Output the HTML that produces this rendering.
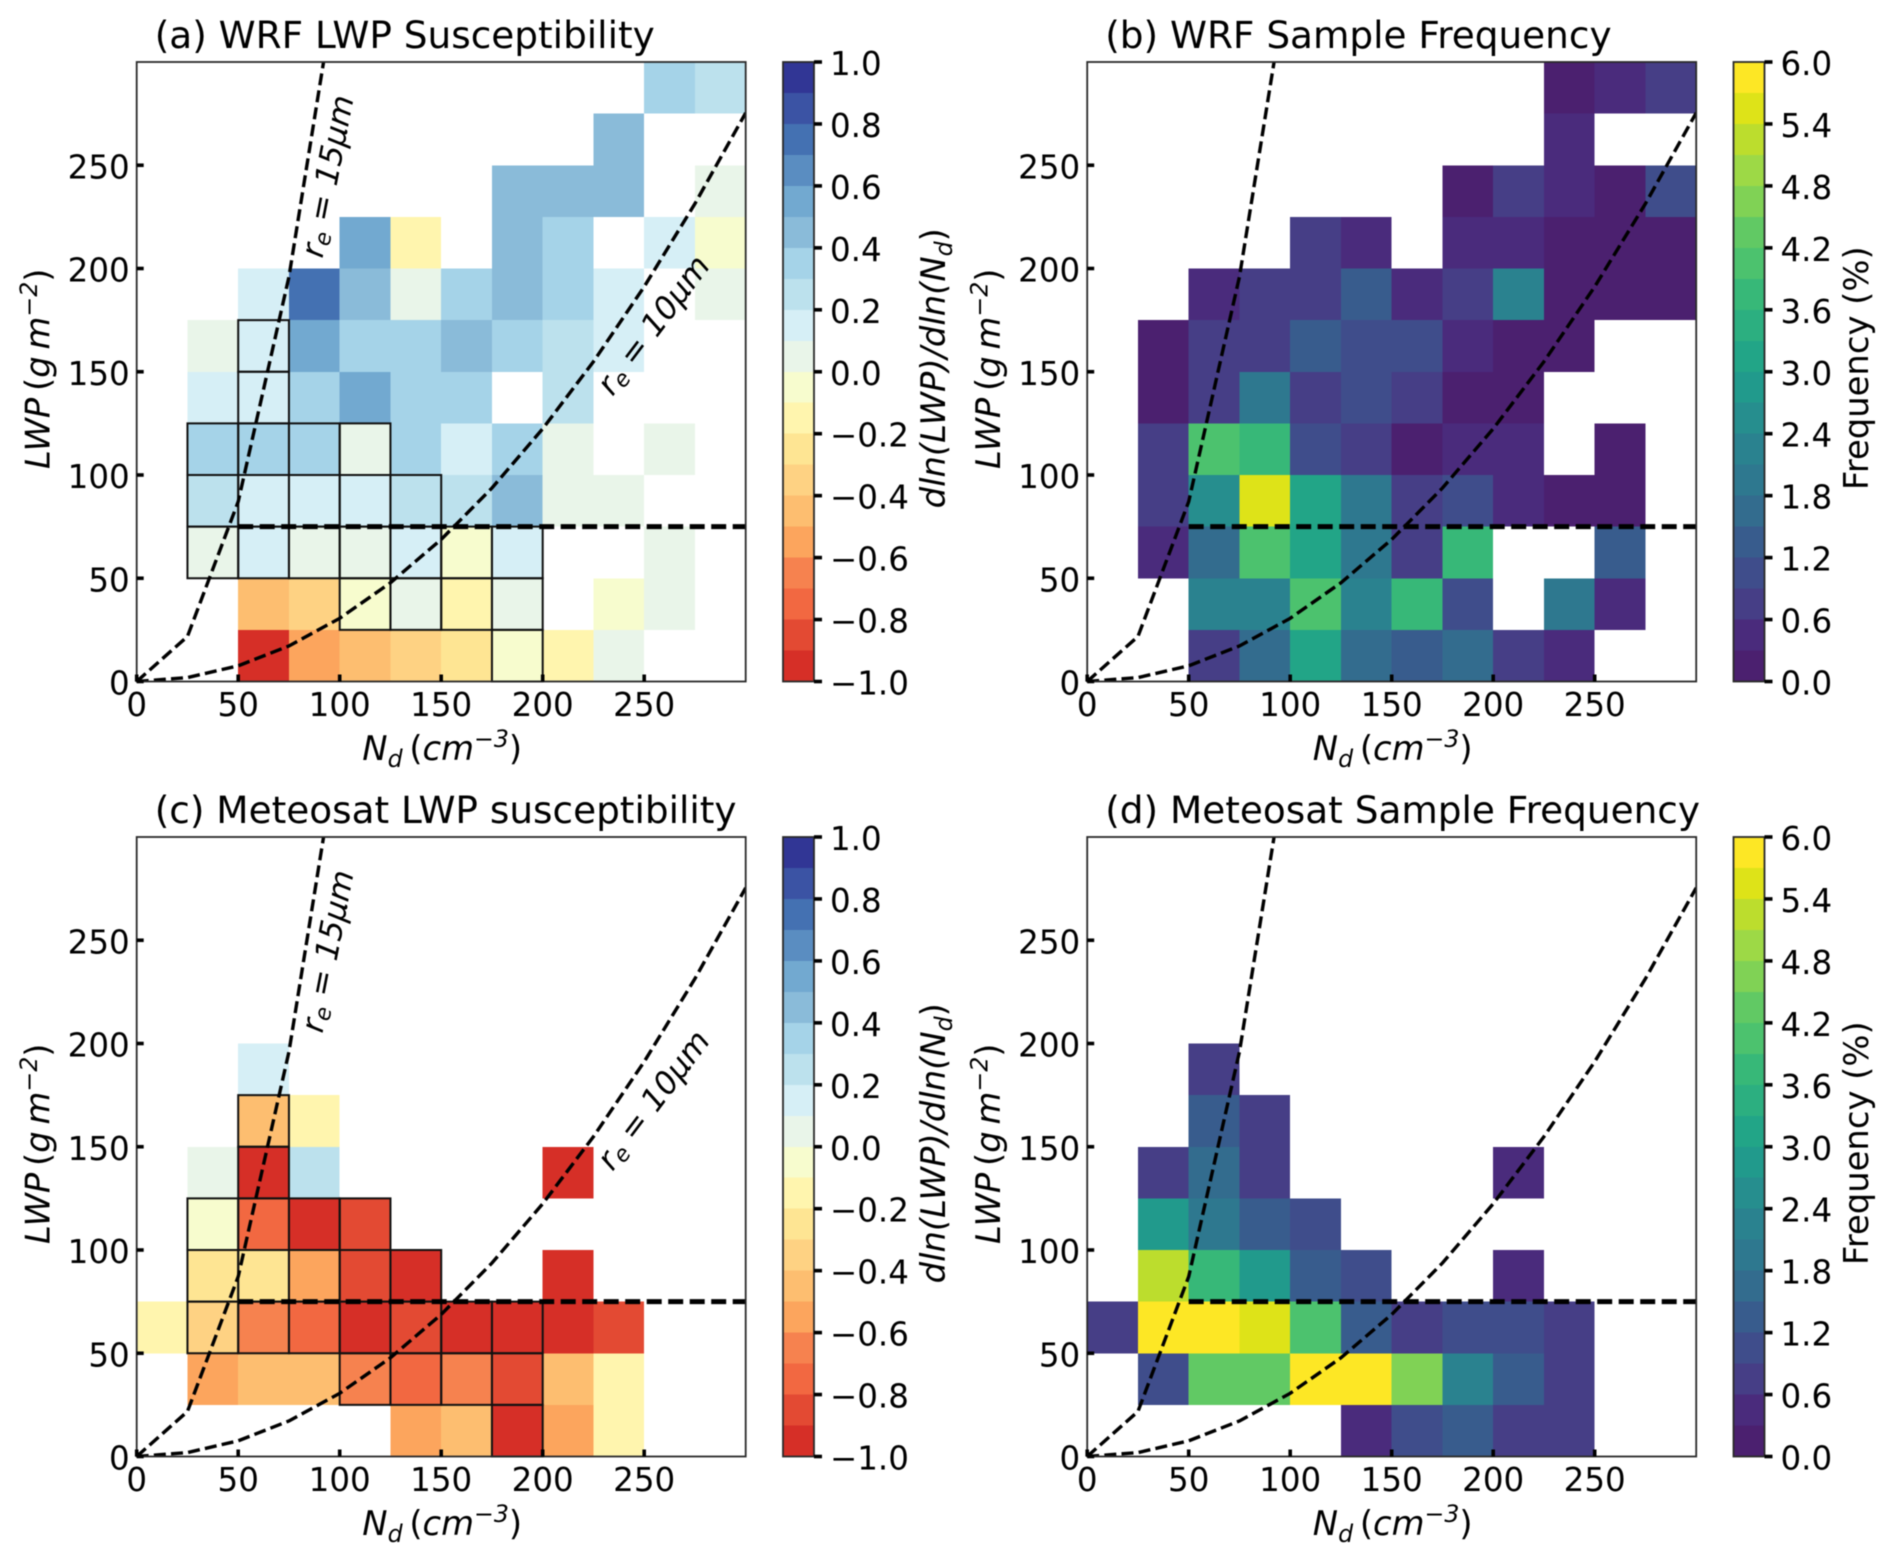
<!DOCTYPE html>
<html lang="en">
<head>
<meta charset="utf-8">
<title>LWP susceptibility and sample frequency</title>
<style>
  html, body { margin: 0; padding: 0; background: #fff; }
  body { width: 1892px; height: 1560px; overflow: hidden; }
  svg { display: block; filter: blur(0.45px); }
  text { font-family: "DejaVu Sans", "Liberation Sans", sans-serif; fill: #000; }
</style>
</head>
<body>
<svg id="figure" xmlns="http://www.w3.org/2000/svg" width="1892" height="1560" viewBox="0 0 1892 1560"></svg>
<script>
// ---- Data: index 0 is the lowest LWP row (0-25), each row runs over Nd 0-300 in bins of 25 ----
const _ = null;
const ndBinEdges = [0, 25, 50, 75, 100, 125, 150, 175, 200, 225, 250, 275, 300];
const lwpBinEdges = [0, 25, 50, 75, 100, 125, 150, 175, 200, 225, 250, 275, 300];
const xTickValues = [0, 50, 100, 150, 200, 250];
const yTickValues = [0, 50, 100, 150, 200, 250];
const susceptibilityTicks = [-1.0, -0.8, -0.6, -0.4, -0.2, 0.0, 0.2, 0.4, 0.6, 0.8, 1.0];
const frequencyTicks = [0.0, 0.6, 1.2, 1.8, 2.4, 3.0, 3.6, 4.2, 4.8, 5.4, 6.0];

const wrfSusceptibility = [
  [_, _, -0.95, -0.55, -0.45, -0.35, -0.25, -0.05, -0.15, 0.05, _, _],
  [_, _, -0.45, -0.35, -0.05, 0.05, -0.15, 0.05, _, -0.05, 0.05, _],
  [_, 0.05, 0.15, 0.05, 0.05, 0.15, -0.05, 0.15, _, _, 0.05, _],
  [_, 0.25, 0.15, 0.15, 0.15, 0.25, 0.25, 0.45, 0.05, 0.05, _, _],
  [_, 0.35, 0.35, 0.35, 0.05, 0.35, 0.15, 0.35, 0.05, _, 0.05, _],
  [_, 0.15, 0.15, 0.35, 0.55, 0.35, 0.35, _, 0.25, _, _, _],
  [_, 0.05, 0.15, 0.55, 0.35, 0.35, 0.45, 0.35, 0.25, 0.15, _, _],
  [_, _, 0.15, 0.75, 0.45, 0.05, 0.35, 0.45, 0.35, 0.15, _, 0.05],
  [_, _, _, _, 0.55, -0.15, _, 0.45, 0.35, _, 0.15, -0.05],
  [_, _, _, _, _, _, _, 0.45, 0.45, 0.45, _, 0.05],
  [_, _, _, _, _, _, _, _, _, 0.45, _, _],
  [_, _, _, _, _, _, _, _, _, _, 0.35, 0.25]
];
const wrfFrequency = [
  [_, _, 0.75, 1.65, 3.15, 1.65, 1.35, 1.65, 0.75, 0.45, _, _],
  [_, _, 2.25, 2.25, 4.05, 2.25, 3.75, 1.05, _, 1.95, 0.45, _],
  [_, 0.45, 1.65, 4.05, 3.15, 1.95, 0.75, 3.75, _, _, 1.35, _],
  [_, 0.75, 2.55, 5.55, 3.15, 1.95, 0.75, 1.05, 0.45, 0.15, 0.15, _],
  [_, 0.75, 4.05, 3.75, 1.05, 0.75, 0.15, 0.45, 0.45, _, 0.15, _],
  [_, 0.15, 0.75, 1.95, 0.75, 1.05, 0.75, 0.15, 0.15, _, _, _],
  [_, 0.15, 0.75, 0.75, 1.35, 1.05, 1.05, 0.45, 0.15, 0.15, _, _],
  [_, _, 0.45, 0.75, 0.75, 1.35, 0.45, 0.75, 2.25, 0.15, 0.15, 0.15],
  [_, _, _, _, 0.75, 0.45, _, 0.45, 0.45, 0.15, 0.15, 0.15],
  [_, _, _, _, _, _, _, 0.15, 0.75, 0.45, 0.15, 1.05],
  [_, _, _, _, _, _, _, _, _, 0.45, _, _],
  [_, _, _, _, _, _, _, _, _, 0.15, 0.45, 0.75]
];
const meteosatSusceptibility = [
  [_, _, _, _, _, -0.55, -0.45, -0.95, -0.55, -0.15, _, _],
  [_, -0.55, -0.45, -0.45, -0.65, -0.75, -0.65, -0.85, -0.45, -0.15, _, _],
  [-0.15, -0.35, -0.65, -0.75, -0.95, -0.85, -0.95, -0.95, -0.95, -0.85, _, _],
  [_, -0.25, -0.25, -0.55, -0.85, -0.95, _, _, -0.95, _, _, _],
  [_, -0.05, -0.75, -0.95, -0.85, _, _, _, _, _, _, _],
  [_, 0.05, -0.95, 0.25, _, _, _, _, -0.95, _, _, _],
  [_, _, -0.45, -0.15, _, _, _, _, _, _, _, _],
  [_, _, 0.15, _, _, _, _, _, _, _, _, _],
  [_, _, _, _, _, _, _, _, _, _, _, _],
  [_, _, _, _, _, _, _, _, _, _, _, _],
  [_, _, _, _, _, _, _, _, _, _, _, _],
  [_, _, _, _, _, _, _, _, _, _, _, _]
];
const meteosatFrequency = [
  [_, _, _, _, _, 0.45, 1.05, 1.35, 0.75, 0.75, _, _],
  [_, 1.05, 4.35, 4.35, 5.85, 5.85, 4.65, 2.25, 1.35, 0.75, _, _],
  [0.75, 5.85, 5.85, 5.55, 4.05, 1.35, 0.75, 1.05, 1.05, 0.75, _, _],
  [_, 5.25, 3.75, 2.85, 1.35, 1.05, _, _, 0.45, _, _, _],
  [_, 2.85, 1.95, 1.35, 1.05, _, _, _, _, _, _, _],
  [_, 0.75, 1.65, 0.75, _, _, _, _, 0.45, _, _, _],
  [_, _, 1.35, 0.75, _, _, _, _, _, _, _, _],
  [_, _, 0.75, _, _, _, _, _, _, _, _, _],
  [_, _, _, _, _, _, _, _, _, _, _, _],
  [_, _, _, _, _, _, _, _, _, _, _, _],
  [_, _, _, _, _, _, _, _, _, _, _, _],
  [_, _, _, _, _, _, _, _, _, _, _, _]
];
// Significant cells are outlined: [row, column]
const wrfSignificantCells = [
  [0,7],[1,4],[1,5],[1,6],[1,7],
  [2,1],[2,2],[2,3],[2,4],[2,5],[2,6],[2,7],
  [3,1],[3,2],[3,3],[3,4],[3,5],
  [4,1],[4,2],[4,3],[4,4],[5,2],[6,2]
];
const meteosatSignificantCells = [
  [0,7],[1,4],[1,5],[1,6],[1,7],
  [2,1],[2,2],[2,3],[2,4],[2,5],[2,6],[2,7],
  [3,1],[3,2],[3,3],[3,4],[3,5],
  [4,1],[4,2],[4,3],[4,4],[5,2],[6,2]
];
// Effective-radius isolines
const isolineNd = [0, 25, 50, 75, 100, 125, 150, 175, 200, 225, 250, 275, 300];
const re10Lwp = [0, 1.9, 7.6, 17.2, 30.6, 47.8, 68.8, 93.7, 122.4, 154.9, 191.2, 231.4, 275.4];
const re15Lwp = [0, 21.8, 87.1, 196, 348.5, 544, 784, 1067, 1394, 1764, 2178, 2635, 3136];
const thresholdLwp = [75];
const thresholdNdRange = [50, 300];

// ---- Colour ramps (low to high) ----
const rdYlBuBins = ['#d62f27','#e34a33','#f26841','#f6824f','#fca55d','#fdbe70','#fed283','#fee593','#fff5ae','#f7fcce',
                    '#e9f5e9','#d6eff6','#bce1ed','#a5d3e8','#8abbd9','#72a9d0','#5a8dc1','#4471b2','#3b53a4','#313695'];
const viridisBins = ['#4b206f','#4a2b7c','#463e86','#3f4d8b','#385c8d','#336c8e','#2e788f','#2a828f','#268e8e','#219a8c',
                     '#22a587','#2caf80','#37b878','#4cc26e','#61c964','#80d255','#9dd946','#bcdd2d','#dee318','#fde725'];

// ---- Drawing ----
const SVGNS = 'http://www.w3.org/2000/svg';
const root = document.getElementById('figure');
const defs = document.createElementNS(SVGNS, 'defs');
root.appendChild(defs);
const TICK_FONT = 32.5, TITLE_FONT = 37.4, LABEL_FONT = 33.8, ANNOT_FONT = 31.6;
const AX_W = 609, AX_H = 619.5, CB_GAP = 37.3, CB_W = 31;

function svgEl(tag, attrs, parent) {
  const el = document.createElementNS(SVGNS, tag);
  for (const k in attrs) el.setAttribute(k, attrs[k]);
  parent.appendChild(el);
  return el;
}
function addSegments(textEl, segs, size) {
  // segs: [text, kind]; kind: '' upright, 'i' italic, 'sub' italic subscript, 'sup' italic superscript
  let shift = 0;
  segs.forEach(function (s) {
    const ts = document.createElementNS(SVGNS, 'tspan');
    const kind = s[1] || '';
    let target = 0;
    if (kind === 'sub') target = size * 0.2;
    if (kind === 'sup') target = -size * 0.38;
    if (kind === 'i' || kind === 'sub' || kind === 'sup') ts.setAttribute('font-style', 'italic');
    if (kind === 'sub' || kind === 'sup') ts.setAttribute('font-size', size * 0.7);
    if (target !== shift) ts.setAttribute('dy', target - shift);
    shift = target;
    ts.textContent = s[0];
    textEl.appendChild(ts);
  });
}
function fmtTick(v) {
  const s = Math.abs(v).toFixed(1);
  return v < -1e-9 ? '\u2212' + s : s;
}

function drawPanel(cfg) {
  const L = cfg.left, T = cfg.top, R = L + AX_W, B = T + AX_H;
  const vMin = cfg.vmin, vMax = cfg.vmax, ramp = cfg.ramp;
  const x = function (v) { return L + v / 300 * AX_W; };
  const y = function (v) { return B - v / 300 * AX_H; };
  const colorFor = function (v) {
    const i = Math.floor((v - vMin) / (vMax - vMin) * ramp.length);
    return ramp[Math.max(0, Math.min(ramp.length - 1, i))];
  };

  const panel = svgEl('g', {}, root);
  
  

  const clip = svgEl('clipPath', { id: 'clip-' + cfg.name }, defs);
  svgEl('rect', { x: L, y: T, width: AX_W, height: AX_H }, clip);

  // heatmap
  const heat = svgEl('g', { 'shape-rendering': 'crispEdges' }, panel);
  
  
  cfg.grid.forEach(function (row, r) {
    row.forEach(function (val, c) {
      if (val === null) return;
      const cell = svgEl('rect', {
        x: x(ndBinEdges[c]), y: y(lwpBinEdges[r + 1]),
        width: x(ndBinEdges[c + 1]) - x(ndBinEdges[c]),
        height: y(lwpBinEdges[r]) - y(lwpBinEdges[r + 1]),
        fill: colorFor(val)
      }, heat);
      
      
    });
  });

  // significance outlines
  (cfg.significant || []).forEach(function (rc) {
    const box = svgEl('rect', {
      x: x(ndBinEdges[rc[1]]), y: y(lwpBinEdges[rc[0] + 1]),
      width: x(ndBinEdges[rc[1] + 1]) - x(ndBinEdges[rc[1]]),
      height: y(lwpBinEdges[rc[0]]) - y(lwpBinEdges[rc[0] + 1]),
      fill: 'none', stroke: '#111', 'stroke-width': 2
    }, panel);
    
    
  });

  // isolines
  const linePts = function (ys) {
    return isolineNd.map(function (n, i) { return x(n).toFixed(2) + ',' + y(ys[i]).toFixed(2); }).join(' ');
  };
  const lineClip = svgEl('g', { 'clip-path': 'url(#clip-' + cfg.name + ')' }, panel);
  const re15Line = svgEl('polyline', { points: linePts(re15Lwp), fill: 'none', stroke: '#000', 'stroke-width': 3.4, 'stroke-dasharray': '12 5.2' }, lineClip);
  
  
  const re10Line = svgEl('polyline', { points: linePts(re10Lwp), fill: 'none', stroke: '#000', 'stroke-width': 3.4, 'stroke-dasharray': '12 5.2' }, lineClip);
  
  
  const thr = svgEl('line', {
    x1: x(thresholdNdRange[0]), x2: x(thresholdNdRange[1]), y1: y(thresholdLwp[0]), y2: y(thresholdLwp[0]),
    stroke: '#000', 'stroke-width': 5, 'stroke-dasharray': '15 6.5'
  }, panel);
  
  

  // annotations (susceptibility panels only)
  if (cfg.annotate) {
    const a15 = svgEl('text', { transform: 'translate(' + (L + 192.5) + ',' + (T + 114.5) + ') rotate(-79)', 'text-anchor': 'middle', 'dominant-baseline': 'middle', 'font-size': ANNOT_FONT }, panel);
    
    
    addSegments(a15, [['r', 'i'], ['e', 'sub'], [' = 15\u03bcm', 'i']], ANNOT_FONT);
    const a10 = svgEl('text', { transform: 'translate(' + (L + 518) + ',' + (T + 264) + ') rotate(-53)', 'text-anchor': 'middle', 'dominant-baseline': 'middle', 'font-size': ANNOT_FONT }, panel);
    
    
    addSegments(a10, [['r', 'i'], ['e', 'sub'], [' = 10\u03bcm', 'i']], ANNOT_FONT);
  }

  // frame
  const frame = svgEl('rect', { x: L, y: T, width: AX_W, height: AX_H, fill: 'none', stroke: '#2a2a2a', 'stroke-width': 1.8 }, panel);
  
  

  // x ticks
  xTickValues.forEach(function (v) {
    const t = svgEl('line', { x1: x(v), x2: x(v), y1: B, y2: B - 7, stroke: '#000', 'stroke-width': 3.6 }, panel);
    
    
    const lab = svgEl('text', { x: x(v), y: B + 34.5, 'text-anchor': 'middle', 'font-size': TICK_FONT }, panel);
    
    
    lab.textContent = String(v);
  });
  // y ticks
  yTickValues.forEach(function (v) {
    const t = svgEl('line', { x1: L, x2: L + 7, y1: y(v), y2: y(v), stroke: '#000', 'stroke-width': 3.6 }, panel);
    
    
    const lab = svgEl('text', { x: L - 7, y: y(v) + 13, 'text-anchor': 'end', 'font-size': TICK_FONT }, panel);
    
    
    lab.textContent = String(v);
  });

  // titles and axis labels
  const title = svgEl('text', { x: L + 18, y: T - 14, 'font-size': TITLE_FONT }, panel);
  
  
  title.textContent = cfg.title;

  const xl = svgEl('text', { x: L + AX_W / 2 + 1, y: B + 78.5, 'text-anchor': 'middle', 'font-size': LABEL_FONT }, panel);
  
  
  addSegments(xl, [['N', 'i'], ['d', 'sub'], ['\u2009(', ''], ['cm', 'i'], ['\u22123', 'sup'], [')', '']], LABEL_FONT);

  const yl = svgEl('text', { transform: 'translate(' + (L - 87) + ',' + (T + AX_H / 2 - 3) + ') rotate(-90)', 'text-anchor': 'middle', 'font-size': LABEL_FONT }, panel);
  
  
  addSegments(yl, [['LWP', 'i'], ['\u2009(', ''], ['g', 'i'], ['\u2009', ''], ['m', 'i'], ['\u22122', 'sup'], [')', '']], LABEL_FONT);

  // colorbar
  const cbL = R + CB_GAP;
  const cy = function (v) { return B - (v - vMin) / (vMax - vMin) * AX_H; };
  const cb = svgEl('g', {}, panel);
  
  
  ramp.forEach(function (col, i) {
    const lo = vMin + (vMax - vMin) * i / ramp.length;
    const hi = vMin + (vMax - vMin) * (i + 1) / ramp.length;
    const seg = svgEl('rect', { x: cbL, y: cy(hi), width: CB_W, height: cy(lo) - cy(hi), fill: col, 'shape-rendering': 'crispEdges' }, cb);
    
    
  });
  const cbFrame = svgEl('rect', { x: cbL, y: T, width: CB_W, height: AX_H, fill: 'none', stroke: '#2a2a2a', 'stroke-width': 1.8 }, cb);
  
  
  cfg.ticks.forEach(function (v) {
    const t = svgEl('line', { x1: cbL + CB_W, x2: cbL + CB_W + 8, y1: cy(v), y2: cy(v), stroke: '#000', 'stroke-width': 3.6 }, cb);
    
    
    const lab = svgEl('text', { x: cbL + CB_W + 16, y: cy(v) + 13, 'font-size': TICK_FONT }, cb);
    
    
    lab.textContent = fmtTick(v);
  });
  const cbTitle = svgEl('text', { transform: 'translate(' + cfg.cbLabelX + ',' + (T + AX_H / 2 - 3.5) + ') rotate(-90)', 'text-anchor': 'middle', 'font-size': LABEL_FONT }, cb);
  
  
  addSegments(cbTitle, cfg.cbLabel, LABEL_FONT);
}

const suscLabel = [['dln(LWP)/dln(N', 'i'], ['d', 'sub'], [')', '']];
const freqLabel = [['Frequency (%)', '']];

drawPanel({ name: 'panel-a', left: 136.7, top: 62, grid: wrfSusceptibility, significant: wrfSignificantCells, annotate: true,
  vmin: -1, vmax: 1, ramp: rdYlBuBins, ticks: susceptibilityTicks, title: '(a) WRF LWP Susceptibility', cbLabel: suscLabel, cbLabelX: 945 });
drawPanel({ name: 'panel-b', left: 1087.2, top: 62, grid: wrfFrequency, significant: [], annotate: false,
  vmin: 0, vmax: 6, ramp: viridisBins, ticks: frequencyTicks, title: '(b) WRF Sample Frequency', cbLabel: freqLabel, cbLabelX: 1868 });
drawPanel({ name: 'panel-c', left: 136.7, top: 837, grid: meteosatSusceptibility, significant: meteosatSignificantCells, annotate: true,
  vmin: -1, vmax: 1, ramp: rdYlBuBins, ticks: susceptibilityTicks, title: '(c) Meteosat LWP susceptibility', cbLabel: suscLabel, cbLabelX: 945 });
drawPanel({ name: 'panel-d', left: 1087.2, top: 837, grid: meteosatFrequency, significant: [], annotate: false,
  vmin: 0, vmax: 6, ramp: viridisBins, ticks: frequencyTicks, title: '(d) Meteosat Sample Frequency', cbLabel: freqLabel, cbLabelX: 1868 });
</script>
</body>
</html>
